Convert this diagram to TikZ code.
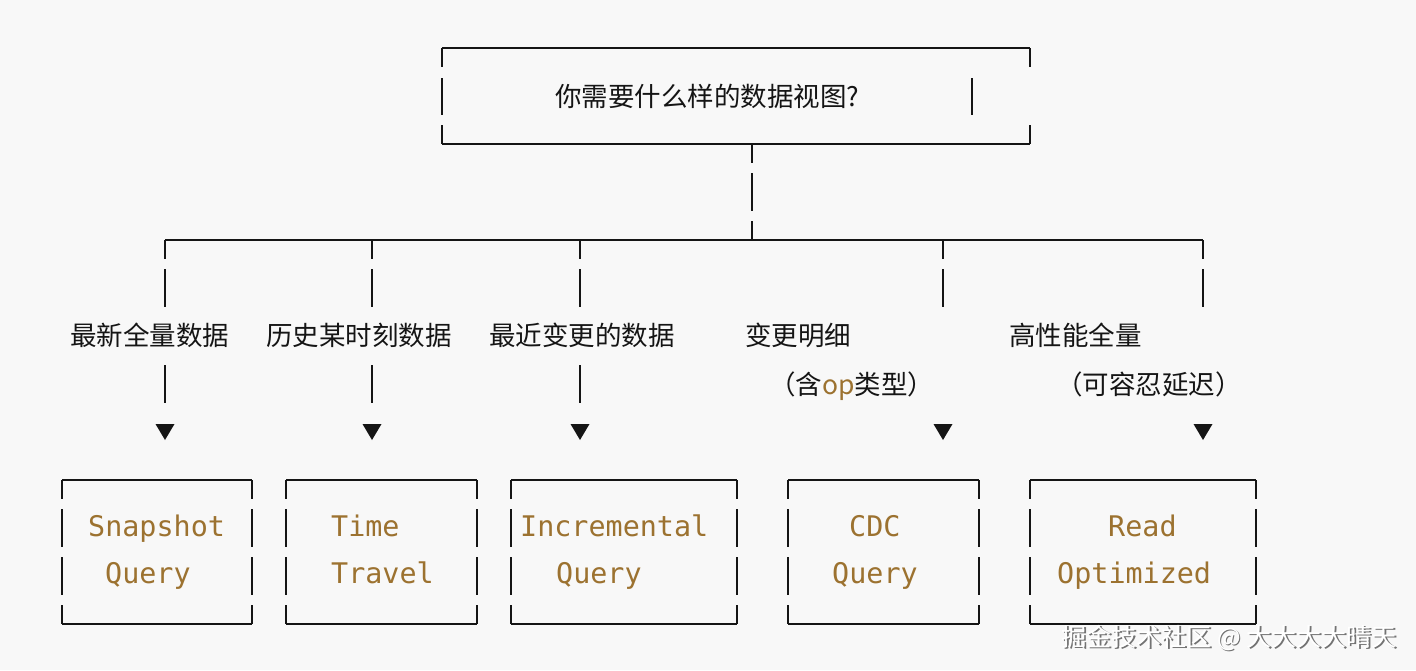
\documentclass[tikz,border=0pt]{standalone}
\usepackage{fontspec}
\newfontfamily\cjk{Noto Sans CJK SC}
\newfontfamily\mono{DejaVu Sans Mono}
\definecolor{bg}{HTML}{F8F8F8}
\definecolor{ink}{HTML}{151515}
\definecolor{gold}{HTML}{9C7230}
\tikzset{
  hline/.style={draw=ink, line width=1.8pt},
  hticks/.style={draw=ink, line width=2.4pt, dash pattern=on 2pt off 15pt},
  vbar/.style={draw=ink, line width=2pt},
  cjklabel/.style={inner sep=0pt, anchor=base west, text=ink, font=\cjk\fontsize{26.5pt}{30pt}\selectfont},
  codelabel/.style={inner sep=0pt, anchor=base west, text=gold, font=\mono\fontsize{28.4pt}{32pt}\selectfont},
  tri/.style={fill=ink, draw=none},
}
\newcommand\hl[3]{\draw[hline] (#1,#3) -- (#2,#3); \draw[hticks] (#1+8,#3) -- (#2,#3);}
\newcommand\vb[3]{\draw[vbar] (#1,#2) -- (#1,#3);}
\newcommand\qbox[2]{%
  \hl{#1}{#2}{480}\hl{#1}{#2}{624}%
  \foreach \xx in {#1,#2}{\vb{\xx}{480}{499}\vb{\xx}{509}{547}\vb{\xx}{557}{595}\vb{\xx}{605}{624}}}
\newcommand\downtri[1]{\fill[tri] (#1-9.5,424) -- (#1+9.5,424) -- (#1,440) -- cycle;}
\begin{document}
\begin{tikzpicture}[x=1pt,y=-1pt]
\fill[bg] (0,0) rectangle (1416,670);
\useasboundingbox (0,0) rectangle (1416,670);
% top box
\hl{442}{1030}{48}\hl{442}{1030}{144}
\vb{442}{48}{67}\vb{442}{78}{115}\vb{442}{125}{144}
\vb{1030}{48}{67}\vb{972}{78}{115}\vb{1030}{125}{144}
\node[cjklabel] (q) at (555,106) {你需要什么样的数据视图?};
% trunk
\coordinate (trunk) at (752,144);
\vb{752}{144}{163}\vb{752}{173}{211}\vb{752}{221}{240}
\hl{165}{1203}{240}
% branches
\foreach \bx in {165,372,580,943,1203}{\vb{\bx}{240}{259}\vb{\bx}{269}{307}\downtri{\bx}}
\foreach \bx in {165,372,580}{\vb{\bx}{365}{403}}
% labels
\node[cjklabel] (l1) at (70,345) {最新全量数据};
\node[cjklabel] (l2) at (266,345) {历史某时刻数据};
\node[cjklabel] (l3) at (489,345) {最近变更的数据};
\node[cjklabel] (l4) at (745,345) {变更明细};
\node[cjklabel] (l4b) at (769,394) {（含{\color{gold}op}类型）};
\node[cjklabel] (l5) at (1009,345) {高性能全量};
\node[cjklabel] (l5b) at (1056,394) {（可容忍延迟）};
% bottom boxes
\qbox{62}{252}
\qbox{286}{477}
\qbox{511}{737}
\qbox{788}{979}
\qbox{1030}{1256}
\node[codelabel] (b1a) at (88,536) {Snapshot};
\node[codelabel] (b1b) at (105,583) {Query};
\node[codelabel] (b2a) at (331,536) {Time};
\node[codelabel] (b2b) at (331,583) {Travel};
\node[codelabel] (b3a) at (520,536) {Incremental};
\node[codelabel] (b3b) at (556,583) {Query};
\node[codelabel] (b4a) at (849,536) {CDC};
\node[codelabel] (b4b) at (832,583) {Query};
\node[codelabel] (b5a) at (1108,536) {Read};
\node[codelabel] (b5b) at (1057,583) {Optimized};
% watermark
\node[inner sep=0pt, anchor=base east, text=black!55, font=\cjk\fontsize{25pt}{28pt}\selectfont] at (1398.2,647.2) {掘金技术社区 @ 大大大大晴天};
\node[inner sep=0pt, anchor=base east, text=white, font=\cjk\fontsize{25pt}{28pt}\selectfont] (wm) at (1397,646) {掘金技术社区 @ 大大大大晴天};
\end{tikzpicture}
\end{document}
